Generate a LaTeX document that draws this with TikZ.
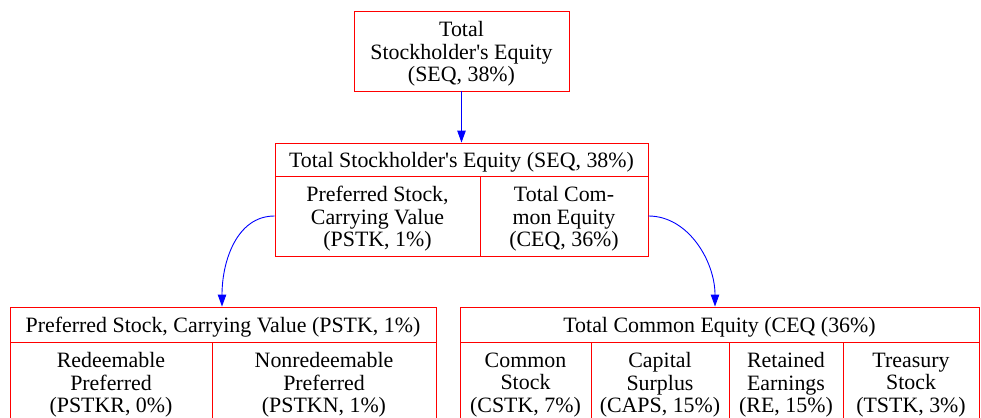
\documentclass[tikz,border=0pt]{standalone}
\usepackage{fontspec}
\setmainfont{Liberation Serif}
\usetikzlibrary{arrows.meta}
\newcommand{\apo}{\XeTeXglyph\XeTeXcharglyph"0027\relax}
\begin{document}
\begin{tikzpicture}[x=1pt,y=-1pt,
  cell/.style={draw=red, line width=0.9pt, inner sep=0pt},
  txt/.style={inner sep=0pt, align=center, yshift=-3pt,
    font=\fontsize{21.9}{22.6}\selectfont, text=black},
  conn/.style={draw=blue, line width=0.9pt, -{Triangle[length=12pt,width=8.5pt]}}]
\useasboundingbox (0,0) rectangle (981,417);
\begin{scope}
\clip (0,0) rectangle (981,417);
% top
\node[cell, minimum width=215pt, minimum height=80pt] (seq) at (461.5,51) {};
\node[txt] (seqt) at (seq.center) {Total\\Stockholder\apo s Equity\\(SEQ, 38\%)};
% middle record
\node[cell, minimum width=373pt, minimum height=33pt] (midh) at (461.5,159.5) {};
\node[txt] (midht) at (midh.center) {Total Stockholder\apo s Equity (SEQ, 38\%)};
\node[cell, minimum width=205pt, minimum height=80pt] (pstk) at (377.5,216) {};
\node[txt] (pstkt) at (pstk.center) {Preferred Stock,\\Carrying Value\\(PSTK, 1\%)};
\node[cell, minimum width=168pt, minimum height=80pt] (ceq) at (564,216) {};
\node[txt] (ceqt) at (ceq.center) {Total Com-\\mon Equity\\(CEQ, 36\%)};
% bottom left record
\node[cell, minimum width=426pt, minimum height=35pt] (blh) at (223,324.5) {};
\node[txt] (blht) at (blh.center) {Preferred Stock, Carrying Value (PSTK, 1\%)};
\node[cell, minimum width=202pt, minimum height=80pt] (pstkr) at (111,382) {};
\node[txt] (pstkrt) at (pstkr.center) {Redeemable\\Preferred\\(PSTKR, 0\%)};
\node[cell, minimum width=224pt, minimum height=80pt] (pstkn) at (324,382) {};
\node[txt] (pstknt) at (pstkn.center) {Nonredeemable\\Preferred\\(PSTKN, 1\%)};
% bottom right record
\node[cell, minimum width=519pt, minimum height=35pt] (brh) at (719.5,324.5) {};
\node[txt] (brht) at (brh.center) {Total Common Equity (CEQ (36\%)};
\node[cell, minimum width=131pt, minimum height=80pt] (cstk) at (525.5,382) {};
\node[txt] (cstkt) at (cstk.center) {Common\\Stock\\(CSTK, 7\%)};
\node[cell, minimum width=138pt, minimum height=80pt] (caps) at (660,382) {};
\node[txt] (capst) at (caps.center) {Capital\\Surplus\\(CAPS, 15\%)};
\node[cell, minimum width=114pt, minimum height=80pt] (re) at (786,382) {};
\node[txt] (ret) at (re.center) {Retained\\Earnings\\(RE, 15\%)};
\node[cell, minimum width=136pt, minimum height=80pt] (tstk) at (911,382) {};
\node[txt] (tstkt) at (tstk.center) {Treasury\\Stock\\(TSTK, 3\%)};
\end{scope}
% connectors
\draw[conn] (seq.south) -- (midh.north);
\draw[conn] (pstk.west) .. controls +(-38,0) and +(0,-45) .. (blh.north -| 222,0);
\draw[conn] (ceq.east) .. controls +(40,0) and +(0,-45) .. (brh.north -| 715,0);
\end{tikzpicture}
\end{document}
